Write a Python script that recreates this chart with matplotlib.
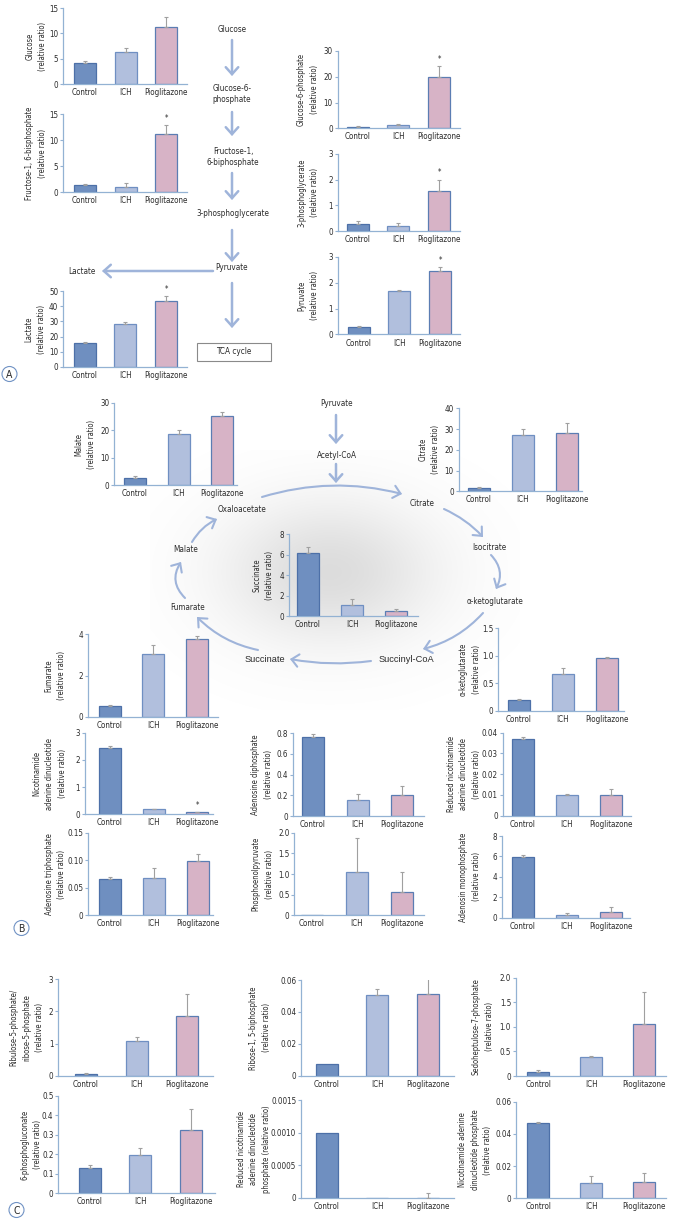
import numpy as np
import matplotlib
matplotlib.use('Agg')
import matplotlib.pyplot as plt
from matplotlib import font_manager as fm
from matplotlib.patches import FancyArrowPatch, Circle, Rectangle

# pick the narrowest sans font that is installed
_fonts = fm.fontManager.ttflist
_names = {f.name for f in _fonts}
if 'Liberation Sans Narrow' in _names:
    plt.rcParams['font.family'] = ['Liberation Sans Narrow', 'DejaVu Sans']
    FS = 1.12
elif any(f.name == 'DejaVu Sans' and f.stretch == 'condensed' for f in _fonts):
    plt.rcParams['font.family'] = ['DejaVu Sans']
    plt.rcParams['font.stretch'] = 'condensed'
    FS = 0.95
else:
    plt.rcParams['font.family'] = ['Liberation Sans', 'DejaVu Sans']
    FS = 1.0
REG = ['Liberation Sans', 'DejaVu Sans']

W, H = 673, 1225
fig = plt.figure(figsize=(W / 100, H / 100), dpi=100)

groups = ['Control', 'ICH', 'Pioglitazone']

# ---- data (mean, upper error) ----
glucose = [4.1, 6.4, 11.2]
glucose_err = [0.4, 0.8, 2.0]
fructose = [1.3, 1.05, 11.1]
fructose_err = [0.25, 0.75, 1.8]
lactate = [15.5, 28.2, 43.4]
lactate_err = [0.9, 1.3, 3.1]
g6p = [0.5, 1.3, 19.8]
g6p_err = [0.2, 0.4, 4.4]
pg3 = [0.29, 0.19, 1.54]
pg3_err = [0.11, 0.13, 0.46]
pyruvate = [0.29, 1.66, 2.43]
pyruvate_err = [0.05, 0.04, 0.17]

malate = [2.8, 18.6, 25.0]
malate_err = [0.5, 1.5, 1.6]
citrate = [1.6, 27.1, 27.9]
citrate_err = [0.3, 2.8, 4.9]
succinate = [6.17, 1.08, 0.46]
succinate_err = [0.6, 0.55, 0.26]
fumarate = [0.55, 3.07, 3.76]
fumarate_err = [0.05, 0.43, 0.16]
akg = [0.19, 0.67, 0.955]
akg_err = [0.02, 0.1, 0.025]
nad = [2.45, 0.18, 0.07]
nad_err = [0.06, 0.03, 0.02]
adp = [0.76, 0.155, 0.2]
adp_err = [0.03, 0.06, 0.09]
nadh = [0.037, 0.0098, 0.0098]
nadh_err = [0.001, 0.0005, 0.0032]
atp = [0.066, 0.068, 0.099]
atp_err = [0.003, 0.017, 0.012]
pep = [0.01, 1.05, 0.56]
pep_err = [0.0, 0.81, 0.49]
amp = [5.9, 0.26, 0.56]
amp_err = [0.24, 0.16, 0.44]

ribulose = [0.05, 1.09, 1.86]
ribulose_err = [0.02, 0.12, 0.69]
ribose15 = [0.0071, 0.0506, 0.051]
ribose15_err = [0.0, 0.0035, 0.01]
sedo = [0.075, 0.39, 1.06]
sedo_err = [0.04, 0.02, 0.64]
pg6 = [0.128, 0.196, 0.322]
pg6_err = [0.015, 0.035, 0.11]
nadph = [0.000993, 0.0, 0.0]
nadph_err = [0.0, 0.0, 0.000077]
nadp = [0.0465, 0.0093, 0.0099]
nadp_err = [0.001, 0.0047, 0.0056]

bar_face = ['#6f8fc0', '#b1bfdd', '#d7b3c6']
bar_edge = ['#4d70a8', '#6f8fc2', '#5b7db3']
spine_c = '#93b2d3'
arrow_c = '#9fb4da'
txt_c = '#2b2b2b'

# overlay axes in pixel units for the pathway drawing
ov = fig.add_axes([0, 0, 1, 1], zorder=0)

# grey shading in the TCA cycle
gx = np.linspace(150, 520, 370)
gy = np.linspace(450, 710, 260)
GX, GY = np.meshgrid(gx, gy)
r2 = ((GX - 330) / 150) ** 2 + ((GY - 572) / 100) ** 2
img = np.zeros(GX.shape + (4,))
img[..., :3] = 0.5
img[..., 3] = 0.27 * np.exp(-2.0 * r2)
ov.imshow(img, extent=(150, 520, 710, 450), origin='upper', interpolation='bilinear')
ov.set_aspect('auto')
ov.set_xlim(0, W)
ov.set_ylim(H, 0)
ov.axis('off')


def arrow(p0, p1, rad=0.0, lw=1.8):
    a = FancyArrowPatch(p0, p1, connectionstyle=f'arc3,rad={rad}',
                        arrowstyle='->,head_length=0.5,head_width=0.45',
                        mutation_scale=10, color=arrow_c, lw=lw,
                        shrinkA=0, shrinkB=0, capstyle='round', joinstyle='miter')
    ov.add_patch(a)


def label(x, y, s, size=6.2, family=None):
    kw = {}
    if family:
        kw['family'] = family
        size_ = size
    else:
        size_ = size * FS
    ov.text(x, y, s, ha='center', va='center', fontsize=size_, color=txt_c,
            linespacing=1.3, **kw)


# glycolysis flow (panel A)
label(232, 30, 'Glucose')
label(232, 94, 'Glucose-6-\nphosphate')
label(233, 157, 'Fructose-1,\n6-biphosphate')
label(233, 213, '3-phosphoglycerate')
label(232, 268, 'Pyruvate')
label(82, 271, 'Lactate')
arrow((232, 40), (232, 76))
arrow((232, 112), (232, 136))
arrow((232, 173), (232, 200))
arrow((232, 230), (232, 262))
arrow((213, 271), (102, 271))
arrow((232, 283), (232, 328))
ov.add_patch(Rectangle((197, 343), 74, 18, fill=False, edgecolor='#8a8a8a', lw=0.8))
label(234, 352, 'TCA cycle')

# TCA cycle (panel B)
label(337, 404, 'Pyruvate')
label(337, 455, 'Acetyl-CoA')
arrow((336, 415), (336, 444))
arrow((336, 464), (336, 483))
label(242, 509, 'Oxaloacetate')
label(422, 503, 'Citrate')
label(489, 547, 'Isocitrate')
label(495, 601, 'α-ketoglutarate')
label(406, 660, 'Succinyl-CoA', size=6.7, family=REG)
label(265, 659, 'Succinate', size=6.7, family=REG)
label(188, 607, 'Fumarate')
label(186, 549, 'Malate')
arrow((262, 497), (402, 494), rad=-0.14, lw=1.5)
arrow((444, 509), (483, 537), rad=-0.1, lw=1.5)
arrow((491, 555), (496, 589), rad=-0.35, lw=1.5)
arrow((483, 613), (423, 649), rad=-0.15, lw=1.5)
arrow((371, 661), (290, 659), rad=-0.08, lw=1.5)
arrow((258, 650), (197, 617), rad=-0.15, lw=1.5)
arrow((185, 598), (181, 562), rad=-0.4, lw=1.5)
arrow((192, 542), (217, 519), rad=-0.15, lw=1.5)

# panel letters
for (cx, cy, s) in [(9.5, 374, 'A'), (21.5, 928, 'B'), (16.5, 1210, 'C')]:
    ov.add_patch(Circle((cx, cy), 7.5, fill=False, edgecolor='#7092c4', lw=0.8))
    ov.text(cx, cy + 0.5, s, ha='center', va='center', fontsize=7.5, color=txt_c)


def panel(mean, err, ylab, lay, ticks, ticklabels, star=False):
    ax_x, x_end, c0, sp, y_top, y_bot, lab_x = lay
    ax = fig.add_axes([ax_x / W, 1 - y_bot / H, (x_end - ax_x) / W, (y_bot - y_top) / H],
                      zorder=2)
    ax.set_facecolor('none')
    x = np.arange(3)
    ax.bar(x, mean, width=22 / sp, color=bar_face, edgecolor=bar_edge, linewidth=0.9, zorder=2)
    e = np.array(err)
    m = np.array(mean)
    k = e > 0
    ax.errorbar(x[k], m[k], yerr=[np.zeros(k.sum()), e[k]], fmt='none',
                ecolor='#a0a0a0', elinewidth=0.8, capsize=1.5, capthick=0.8, zorder=3)
    if star:
        ax.annotate('*', (2, m[2] + e[2]), xytext=(0, 1.5), textcoords='offset points',
                    ha='center', va='bottom', fontsize=5.5, color=txt_c)
    ax.set_xlim((ax_x - c0) / sp, (x_end - c0) / sp)
    ax.set_ylim(0, ticks[-1])
    ax.set_yticks(ticks)
    ax.set_yticklabels(ticklabels)
    ax.set_xticks(x)
    ax.set_xticklabels(groups)
    for s in ['top', 'right']:
        ax.spines[s].set_visible(False)
    for s in ['left', 'bottom']:
        ax.spines[s].set_color(spine_c)
        ax.spines[s].set_linewidth(0.9)
    ax.tick_params(axis='y', direction='out', length=2.5, width=0.8, color=spine_c,
                   labelsize=6.1 * FS, labelcolor=txt_c, pad=1)
    ax.tick_params(axis='x', length=0, labelsize=6.1 * FS, labelcolor=txt_c, pad=3)
    fig.text(lab_x / W, 1 - (y_top + y_bot) / 2 / H, ylab, rotation=90, ha='center',
             va='center', fontsize=5.8 * FS, color=txt_c, linespacing=1.55,
             multialignment='center')
    return ax


def tl(vals):
    return ['0' if v == 0 else str(v) for v in vals]


# layouts: axis x, axis end x, first bar centre, bar spacing, top y, zero y, ylabel x (pixels)
panel(glucose, glucose_err, 'Glucose\n(relative ratio)',
      (63, 187, 85, 40.7, 8, 84, 36.5), [0, 5, 10, 15], tl([0, 5, 10, 15]))
panel(fructose, fructose_err, 'Fructose-1, 6-bisphosphate\n(relative ratio)',
      (63, 187, 85, 40.7, 114, 192, 36), [0, 5, 10, 15], tl([0, 5, 10, 15]), star=True)
panel(lactate, lactate_err, 'Lactate\n(relative ratio)',
      (63, 187, 84.5, 40.8, 291, 367, 35.5), [0, 10, 20, 30, 40, 50],
      tl([0, 10, 20, 30, 40, 50]), star=True)
panel(g6p, g6p_err, 'Glucose-6-phosphate\n(relative ratio)',
      (337.5, 460, 357.5, 40.8, 51, 128.3, 308), [0, 10, 20, 30], tl([0, 10, 20, 30]), star=True)
panel(pg3, pg3_err, '3-phosphoglycerate\n(relative ratio)',
      (337.5, 460, 357.5, 40.8, 153.7, 231.3, 308), [0, 1, 2, 3], tl([0, 1, 2, 3]), star=True)
panel(pyruvate, pyruvate_err, 'Pyruvate\n(relative ratio)',
      (337.5, 460, 358.5, 40.8, 256.7, 334.5, 308), [0, 1, 2, 3], tl([0, 1, 2, 3]), star=True)

panel(malate, malate_err, 'Malate\n(relative ratio)',
      (114.3, 237, 134.5, 44, 402.7, 485.3, 85), [0, 10, 20, 30], tl([0, 10, 20, 30]))
panel(citrate, citrate_err, 'Citrate\n(relative ratio)',
      (458.7, 582, 479, 44, 408.3, 491.3, 429.5), [0, 10, 20, 30, 40],
      tl([0, 10, 20, 30, 40]))
panel(succinate, succinate_err, 'Succinate\n(relative ratio)',
      (289.3, 417.7, 308, 44.2, 534.3, 616, 263), [0, 2, 4, 6, 8], tl([0, 2, 4, 6, 8]))
panel(fumarate, fumarate_err, 'Fumarate\n(relative ratio)',
      (88.3, 218, 109.5, 43.8, 634.3, 717, 55), [0, 2, 4], tl([0, 2, 4]))
panel(akg, akg_err, 'α-ketoglutarate\n(relative ratio)',
      (498.3, 624, 518.5, 44.2, 628.3, 710.5, 470), [0, 0.5, 1.0, 1.5],
      ['0', '0.5', '1.0', '1.5'])
panel(nad, nad_err, 'Nicotinamide\nadenine dinucleotide\n(relative ratio)',
      (85, 213, 109.7, 43.8, 732.7, 814.3, 49.7), [0, 1, 2, 3], tl([0, 1, 2, 3]), star=True)
panel(adp, adp_err, 'Adenosine diphosphate\n(relative ratio)',
      (292.7, 424, 313, 44.5, 733.3, 816, 262), [0, 0.2, 0.4, 0.6, 0.8],
      ['0', '0.2', '0.4', '0.6', '0.8'])
panel(nadh, nadh_err, 'Reduced nicotinamide\nadenine dinucleotide\n(relative ratio)',
      (502.7, 631, 522.7, 44.2, 732.7, 815.7, 464), [0, 0.01, 0.02, 0.03, 0.04],
      ['0', '0.01', '0.02', '0.03', '0.04'])
panel(atp, atp_err, 'Adenosine triphosphate\n(relative ratio)',
      (88.3, 213, 110, 43.8, 832.7, 915.3, 55.5), [0, 0.05, 0.10, 0.15],
      ['0', '0.05', '0.10', '0.15'])
panel(pep, pep_err, 'Phosphoenolpyruvate\n(relative ratio)',
      (294.3, 424, 312, 45, 832.7, 915.3, 262.7), [0, 0.5, 1.0, 1.5, 2.0],
      ['0', '0.5', '1.0', '1.5', '2.0'])
panel(amp, amp_err, 'Adenosin monophosphate\n(relative ratio)',
      (501.7, 630, 522.7, 44.2, 836, 917.7, 470), [0, 2, 4, 6, 8], tl([0, 2, 4, 6, 8]))

panel(ribulose, ribulose_err, 'Ribulose-5-phosphate/\nribose-5-phosphate\n(relative ratio)',
      (58.3, 213.3, 86, 50.7, 979.3, 1075.7, 26.5), [0, 1, 2, 3], tl([0, 1, 2, 3]))
panel(ribose15, ribose15_err, 'Ribose-1, 5-biphosphate\n(relative ratio)',
      (301, 454.3, 326.5, 50.7, 980, 1075.7, 259.7), [0, 0.02, 0.04, 0.06],
      ['0', '0.02', '0.04', '0.06'])
panel(sedo, sedo_err, 'Sedoheptulose-7-phosphate\n(relative ratio)',
      (516, 666, 538.3, 53, 977.7, 1076, 482.7), [0, 0.5, 1.0, 1.5, 2.0],
      ['0', '0.5', '1.0', '1.5', '2.0'])
panel(pg6, pg6_err, '6-phosphogluconate\n(relative ratio)',
      (58.3, 215, 89.5, 50.8, 1095.7, 1193.3, 31), [0, 0.1, 0.2, 0.3, 0.4, 0.5],
      ['0', '0.1', '0.2', '0.3', '0.4', '0.5'])
panel(nadph, nadph_err, 'Reduced nicotinamide\nadenine dinucleotide\nphosphate (relative ratio)',
      (301, 454.3, 326.5, 50.7, 1100, 1197.7, 254), [0, 0.0005, 0.0010, 0.0015],
      ['0', '0.0005', '0.0010', '0.0015'])
panel(nadp, nadp_err, 'Nicotinamide adenine\ndinucleotide phosphate\n(relative ratio)',
      (516, 666, 538.3, 53, 1101.7, 1198.3, 475), [0, 0.02, 0.04, 0.06],
      ['0', '0.02', '0.04', '0.06'])

fig.savefig('out.png', dpi=100)
